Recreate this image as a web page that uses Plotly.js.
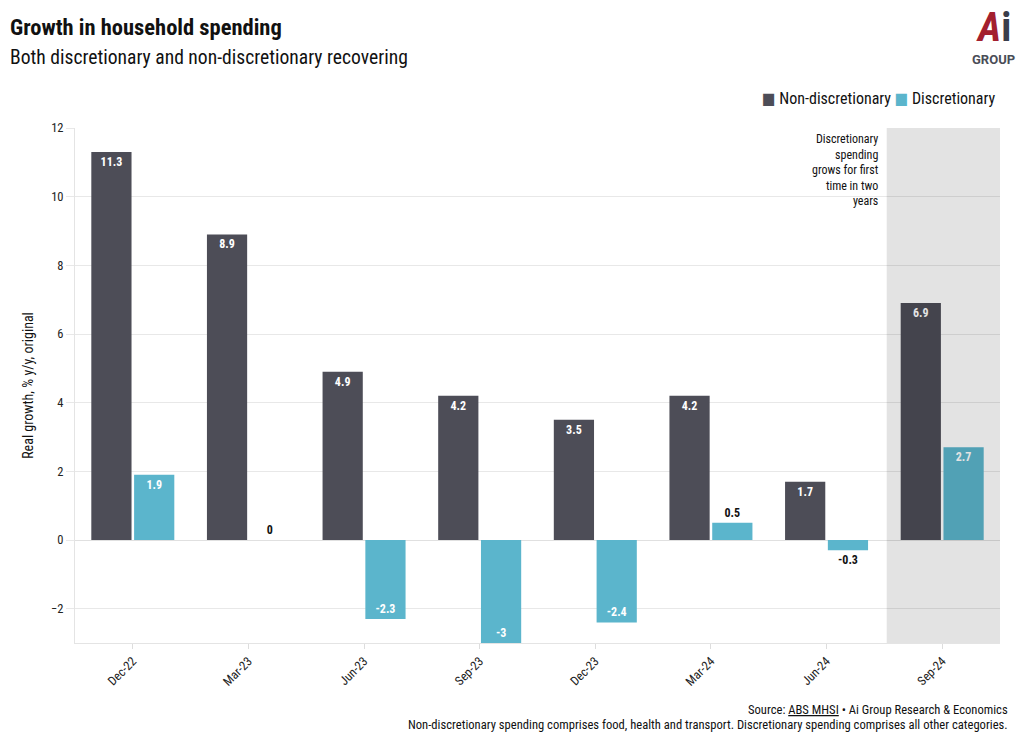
<!DOCTYPE html>
<html><head><meta charset="utf-8">
<script src="https://cdn.plot.ly/plotly-3.0.1.min.js"></script>
<style>body{margin:0;background:#fff}#chart{width:1020px;height:743px}</style>
</head><body><div id="chart"></div>
<script>
const categories = ['Dec-22','Mar-23','Jun-23','Sep-23','Dec-23','Mar-24','Jun-24','Sep-24'];
const nonDiscretionary = [11.3, 8.9, 4.9, 4.2, 3.5, 4.2, 1.7, 6.9];
const discretionary = [1.9, 0, -2.3, -3, -2.4, 0.5, -0.3, 2.7];
const seriesNames = ['Non-discretionary', 'Discretionary'];
const seriesColors = ['#4d4d57', '#5bb5cc'];

const FONT = '"Roboto Condensed", "Liberation Sans Narrow", "DejaVu Sans Condensed", Roboto, sans-serif';

function textPos(vals){ return vals.map(v => Math.abs(v) < 1 ? 'outside' : 'inside'); }
function textCol(vals){ return vals.map(v => Math.abs(v) < 1 ? '#111' : '#fff'); }

const traces = [nonDiscretionary, discretionary].map((vals, i) => ({
  type:'bar', name:seriesNames[i], x:categories, y:vals,
  marker:{color:seriesColors[i]}, text:vals.map(String),
  textposition:textPos(vals), insidetextanchor:'end', cliponaxis:false,
  textfont:{family:FONT, size:12, color:textCol(vals), weight:'bold'},
  hoverinfo:'x+y'
}));

const legendText = seriesNames.map((n, i) =>
  '<span style="color:' + seriesColors[i] + '">■</span> ' + n).join(' ');

const layout = {
  width:1020, height:743,
  margin:{l:75, r:20, t:128, b:100},
  paper_bgcolor:'#fff', plot_bgcolor:'#fff',
  font:{family:FONT, size:12, color:'#222'},
  barmode:'group', bargap:0.26, bargroupgap:0.06,
  showlegend:false,
  xaxis:{type:'category', tickangle:-45, ticks:'outside', ticklen:5, tickcolor:'#ddd',
         showline:true, linecolor:'#e4e4e4', showgrid:false,
         tickfont:{family:FONT, size:12.5, color:'#222'}},
  yaxis:{range:[-3, 12], dtick:2, showgrid:true, gridcolor:'#e8e8e8', zeroline:true,
         zerolinecolor:'#e0e0e0', showline:true, linecolor:'#e4e4e4',
         ticks:'outside', ticklen:8, tickcolor:'#e8e8e8',
         tickfont:{family:FONT, size:12.5, color:'#222'},
         title:{text:'Real growth, % y/y, original', font:{family:FONT, size:14, color:'#111'}, standoff:14}},
  shapes:[
    {type:'rect', xref:'x', yref:'paper', x0:6.52, x1:7.5, y0:0, y1:1,
     fillcolor:'rgba(0,0,0,0.11)', line:{width:0}, layer:'above'}
  ],
  annotations:[
    {xref:'paper', yref:'paper', x:-0.0727, y:1.196, xanchor:'left', yanchor:'middle',
     text:'<b>Growth in household spending</b>', showarrow:false,
     font:{family:FONT, size:22.5, color:'#111'}},
    {xref:'paper', yref:'paper', x:-0.0727, y:1.136, xanchor:'left', yanchor:'middle',
     text:'Both discretionary and non-discretionary recovering', showarrow:false,
     font:{family:FONT, size:19.6, color:'#111'}},
    {xref:'paper', yref:'paper', x:0.998, y:1.058, xanchor:'right', yanchor:'middle',
     showarrow:false, text:legendText,
     font:{family:FONT, size:16, color:'#111'}},
    {xref:'x', yref:'y', x:6.5, y:12, xanchor:'right', yanchor:'top', xshift:-3, yshift:-2,
     align:'right', showarrow:false,
     text:'Discretionary<br>spending<br>grows for first<br>time in two<br>years',
     font:{family:FONT, size:12, color:'#111'}},
    {xref:'paper', yref:'paper', x:1.0108, y:-0.130, xanchor:'right', yanchor:'middle',
     showarrow:false, text:'Source: <u>ABS MHSI</u> • Ai Group Research & Economics',
     font:{family:FONT, size:12.6, color:'#111'}},
    {xref:'paper', yref:'paper', x:1.0108, y:-0.159, xanchor:'right', yanchor:'middle',
     showarrow:false, text:'Non-discretionary spending comprises food, health and transport. Discretionary spending comprises all other categories.',
     font:{family:FONT, size:12.6, color:'#111'}},
    {xref:'paper', yref:'paper', x:0.9935, y:1.195, xanchor:'center', yanchor:'middle',
     showarrow:false, text:'<b><i>A</i></b><b style="color:#3a3d4a">i</b>',
     font:{family:FONT, size:40, color:'#a3202f'}},
    {xref:'paper', yref:'paper', x:0.9935, y:1.133, xanchor:'center', yanchor:'middle',
     showarrow:false, text:'GROUP',
     font:{family:'Roboto, sans-serif', size:13, color:'#4a4d57', weight:'bold'}}
  ]
};

Plotly.newPlot('chart', traces, layout, {displayModeBar:false, responsive:false});
</script>
</body></html>
